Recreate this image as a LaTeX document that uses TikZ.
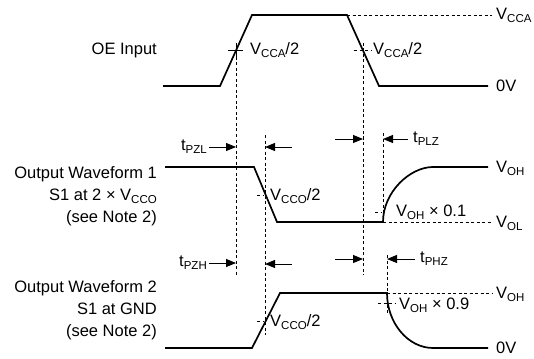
\documentclass[tikz,border=0pt]{standalone}
\usepackage{fontspec}
\setmainfont{Liberation Sans}
\usetikzlibrary{positioning,arrows.meta,calc}

\newcommand{\lsub}[1]{\raisebox{-0.35ex}{\fontsize{11.5}{11.5}\selectfont #1}}

\begin{document}
\begin{tikzpicture}[
  x=1pt, y=-1pt,
  font=\fontsize{16.5}{22}\selectfont,
  >={Triangle[length=10pt,width=8pt]},
  wave/.style={line width=1.7pt, line join=miter},
  guide/.style={line width=0.75pt, dash pattern=on 3pt off 2.5pt},
  tick/.style={line width=0.8pt},
  timing/.style={->, line width=1pt},
  lvl/.style={anchor=west, inner sep=0pt},
  sig/.style={align=right, anchor=north east, inner sep=0pt}
]
\useasboundingbox (0,0) rectangle (534,358);

% ---------- Row 1: OE input ----------
\node[sig] (oe) at (157,43) {OE Input};
\draw[wave] (163,86) -- (220,86) -- (252,15) -- (347,15) -- (379,86) -- (488,86);
\draw[guide] (347,15) -- (492,15);
\node[lvl] (vcca) at (496,15) {V\lsub{CCA}};
\node[lvl] (zero1) at (496,86) {0V};

% crossing marks at half level
\draw[tick] (228,50) -- (243,50) (236,43) -- (236,57);
\draw[guide] (354,50) -- (372,50);
\node[lvl] (half1) at (250,50) {V\lsub{CCA}/2};
\node[lvl] (half2) at (373,50) {V\lsub{CCA}/2};

% ---------- Row 2: output waveform 1 ----------
\node[sig] (out1) at (157,166) {Output Waveform 1\\S1 at 2 × V\lsub{CCO}\\(see Note 2)};
\draw[wave] (165,167) -- (254,167) -- (277,222) -- (383,222)
  .. controls (383,192) and (410,167) .. (433,167) -- (488,167);
\draw[guide] (383,222) -- (492,222);
\node[lvl] (voh1) at (496,168) {V\lsub{OH}};
\node[lvl] (vol1) at (496,223) {V\lsub{OL}};
\draw[guide] (257,195) -- (263,195);
\draw[guide] (375,212) -- (381,212);
\node[lvl] (half3) at (270,196) {V\lsub{CCO}/2};
\node[lvl] (tenth) at (396,212) {V\lsub{OH} × 0.1};

% ---------- Row 3: output waveform 2 ----------
\node[sig] (out2) at (157,280) {Output Waveform 2\\S1 at GND\\(see Note 2)};
\draw[wave] (165,348) -- (252,348) -- (280,293) -- (387,293)
  .. controls (387,323) and (408,348) .. (433,348) -- (488,348);
\draw[guide] (387,293) -- (492,293);
\node[lvl] (voh2) at (496,294) {V\lsub{OH}};
\node[lvl] (zero2) at (496,348) {0V};
\draw[guide] (257,321) -- (263,321);
\draw[guide] (378,303) -- (395,303);
\node[lvl] (half4) at (270,322) {V\lsub{CCO}/2};
\node[lvl] (ninth) at (399,305) {V\lsub{OH} × 0.9};

% ---------- vertical guides ----------
\draw[guide] (236,57) -- (236,275);
\draw[guide] (363,43) -- (363,275);
\draw[guide] (265,135) -- (265,335);
\draw[guide] (383,133) -- (383,222);
\draw[guide] (387,255) -- (387,313);

% ---------- timing arrows ----------
\coordinate (pzlA) at (209,147);  \coordinate (pzlB) at (236,147);
\coordinate (pzlC) at (292,147);  \coordinate (pzlD) at (265,147);
\coordinate (plzA) at (335,139);  \coordinate (plzB) at (363,139);
\coordinate (plzC) at (408,139);  \coordinate (plzD) at (383,139);
\coordinate (pzhA) at (209,263);  \coordinate (pzhB) at (236,263);
\coordinate (pzhC) at (292,264);  \coordinate (pzhD) at (265,264);
\coordinate (phzA) at (335,259);  \coordinate (phzB) at (363,259);
\coordinate (phzC) at (415,259);  \coordinate (phzD) at (387,259);

\draw[timing] (pzlA) -- (pzlB);
\draw[timing] (pzlC) -- (pzlD);
\draw[timing] (plzA) -- (plzB);
\draw[timing] (plzC) -- (plzD);
\draw[timing] (pzhA) -- (pzhB);
\draw[timing] (pzhC) -- (pzhD);
\draw[timing] (phzA) -- (phzB);
\draw[timing] (phzC) -- (phzD);

\node[anchor=east, inner sep=2pt] (tpzl) at (pzlA) {t\lsub{PZL}};
\node[anchor=west, inner sep=5pt] (tplz) at (plzC) {t\lsub{PLZ}};
\node[anchor=east, inner sep=2pt] (tpzh) at (pzhA) {t\lsub{PZH}};
\node[anchor=west, inner sep=5pt] (tphz) at (phzC) {t\lsub{PHZ}};

\end{tikzpicture}
\end{document}
